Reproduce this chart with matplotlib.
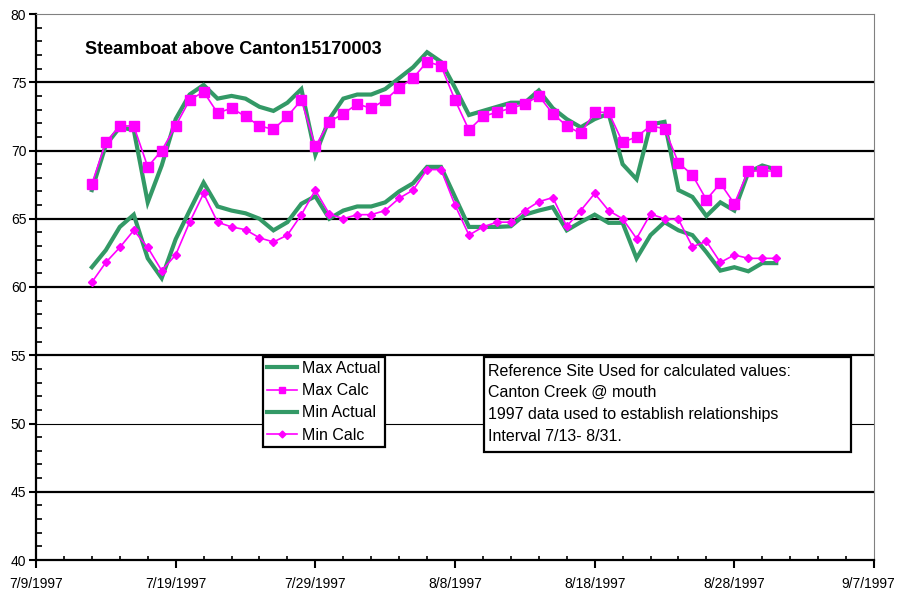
import datetime as dt
import matplotlib
matplotlib.use("Agg")
import matplotlib.pyplot as plt
import matplotlib.dates as mdates
import matplotlib.transforms as mtransforms
from matplotlib.ticker import FixedLocator, FuncFormatter, MultipleLocator
from matplotlib.lines import Line2D

plt.rcParams['font.family'] = ['Liberation Sans', 'DejaVu Sans']

title = "Steamboat above Canton15170003"
start_date = dt.date(1997, 7, 13)
n_days = 50

max_actual = [67.1, 70.4, 71.7, 71.5, 66.2, 68.9, 72.3, 74.1, 74.8, 73.8,
              74.0, 73.8, 73.2, 72.9, 73.5, 74.5, 69.7, 72.3, 73.8, 74.1,
              74.1, 74.5, 75.3, 76.1, 77.2, 76.5, 74.6, 72.6, 72.9, 73.2,
              73.5, 73.5, 74.4, 73.1, 72.3, 71.7, 72.3, 72.7, 69.0, 67.9,
              71.9, 72.1, 67.1, 66.6, 65.2, 66.2, 65.6, 68.4, 68.9, 68.6]
max_calc = [67.55, 70.6, 71.8, 71.8, 68.8, 70.0, 71.8, 73.7, 74.3, 72.75,
            73.1, 72.5, 71.8, 71.55, 72.5, 73.7, 70.3, 72.1, 72.7, 73.4,
            73.1, 73.7, 74.6, 75.3, 76.5, 76.2, 73.7, 71.5, 72.5, 72.8,
            73.1, 73.4, 74.0, 72.7, 71.8, 71.25, 72.8, 72.8, 70.6, 71.0,
            71.8, 71.6, 69.1, 68.2, 66.4, 67.6, 66.1, 68.5, 68.5, 68.5]
min_actual = [61.45, 62.7, 64.4, 65.3, 62.1, 60.65, 63.5, 65.6, 67.65, 65.9,
              65.6, 65.4, 65.0, 64.15, 64.75, 66.1, 66.65, 65.0, 65.6, 65.9,
              65.9, 66.2, 67.0, 67.6, 68.8, 68.8, 66.6, 64.4, 64.4, 64.4,
              64.45, 65.3, 65.6, 65.85, 64.15, 64.75, 65.3, 64.7, 64.7, 62.1,
              63.8, 64.75, 64.15, 63.8, 62.55, 61.2, 61.45, 61.15, 61.75, 61.75]
min_calc = [60.35, 61.8, 62.9, 64.15, 62.9, 61.2, 62.35, 64.75, 66.85, 64.75,
            64.4, 64.2, 63.6, 63.3, 63.8, 65.3, 67.1, 65.35, 65.0, 65.3,
            65.3, 65.6, 66.5, 67.1, 68.6, 68.6, 66.0, 63.8, 64.4, 64.75,
            64.75, 65.6, 66.25, 66.55, 64.45, 65.6, 66.85, 65.6, 65.0, 63.55,
            65.35, 65.0, 64.95, 62.95, 63.35, 61.8, 62.35, 62.1, 62.1, 62.1]

series_labels = ["Max Actual", "Max Calc", "Min Actual", "Min Calc"]
note_lines = ["Reference Site Used for calculated values:",
              "Canton Creek @ mouth",
              "1997 data used to establish relationships",
              "Interval 7/13- 8/31."]

x_start = dt.date(1997, 7, 9)
x_end = dt.date(1997, 9, 7)
y_ticks = [40, 45, 50, 55, 60, 65, 70, 75, 80]

dates = [start_date + dt.timedelta(days=i) for i in range(n_days)]

GREEN = "#339966"
MAGENTA = "#FF00FF"

fig = plt.figure(figsize=(8.99, 5.92), dpi=100)
ax = fig.add_axes([36 / 899, 1 - 560 / 592, 838 / 899, 546 / 592])

# horizontal grid lines
for yv in y_ticks[1:-1]:
    ax.axhline(yv, color="black", lw=0.8 if yv == 50 else 1.6, zorder=1)

ax.plot(dates, max_actual, color=GREEN, lw=3.0, zorder=3, solid_joinstyle="miter")
ax.plot(dates, max_calc, color=MAGENTA, lw=1.2, marker="s", ms=7,
        mec=MAGENTA, mfc=MAGENTA, zorder=4)
ax.plot(dates, min_actual, color=GREEN, lw=3.0, zorder=3, solid_joinstyle="miter")
ax.plot(dates, min_calc, color=MAGENTA, lw=1.2, marker="D", ms=4.3,
        mec=MAGENTA, mfc=MAGENTA, zorder=4)

ax.set_xlim(mdates.date2num(x_start), mdates.date2num(x_end))
ax.set_ylim(40, 80)

major_x = [mdates.date2num(x_start + dt.timedelta(days=10 * k)) for k in range(7)]
minor_x = [mdates.date2num(x_start + dt.timedelta(days=2 * k)) for k in range(31)]
ax.xaxis.set_major_locator(FixedLocator(major_x))
ax.xaxis.set_minor_locator(FixedLocator(minor_x))


def fmt_date(v, pos=None):
    d = mdates.num2date(v)
    return f"{d.month}/{d.day}/{d.year}"


ax.xaxis.set_major_formatter(FuncFormatter(fmt_date))
ax.yaxis.set_major_locator(FixedLocator(y_ticks))
ax.yaxis.set_minor_locator(MultipleLocator(1))

ax.tick_params(axis="x", which="major", direction="out", length=6, width=1.5,
               labelsize=10, pad=6)
ax.tick_params(axis="x", which="minor", direction="in", length=3, width=1.2)
ax.tick_params(axis="y", which="major", direction="out", length=5, width=1.5,
               labelsize=10, pad=2)
ax.tick_params(axis="y", which="minor", direction="in", length=4, width=1.2)

for side in ("left", "bottom"):
    ax.spines[side].set_linewidth(1.6)
    ax.spines[side].set_color("black")
for side in ("top", "right"):
    ax.spines[side].set_linewidth(0.8)
    ax.spines[side].set_color("#808080")

ax.text((85 - 36) / 838, (560 - 50) / 546, title, transform=ax.transAxes,
        fontsize=13, fontweight="bold", ha="left", va="center")

handles = [
    Line2D([], [], color=GREEN, lw=3.0),
    Line2D([], [], color=MAGENTA, lw=1.2, marker="s", ms=5),
    Line2D([], [], color=GREEN, lw=3.0),
    Line2D([], [], color=MAGENTA, lw=1.2, marker="D", ms=3.5),
]
leg = ax.legend(handles, series_labels, loc="upper left",
                bbox_to_anchor=((263 - 36) / 838, (560 - 357) / 546),
                fontsize=11.5, frameon=True, fancybox=False, shadow=False,
                borderpad=0.25, labelspacing=0.45, handlelength=1.9,
                handletextpad=0.3, borderaxespad=0.0)
leg.get_frame().set_edgecolor("black")
leg.get_frame().set_linewidth(1.6)
leg.get_frame().set_facecolor("white")
leg.get_frame().set_alpha(1)
leg.set_zorder(6)

# note box
bx0, bx1 = 484 / 899, 851 / 899
by0, by1 = 1 - 452 / 592, 1 - 357 / 592
fig.patches.append(plt.Rectangle((bx0, by0), bx1 - bx0, by1 - by0,
                                 transform=fig.transFigure, facecolor="white",
                                 edgecolor="black", lw=1.6, zorder=5))
for i, line in enumerate(note_lines):
    fig.text(488 / 899, 1 - (371 + 21.7 * i) / 592, line, fontsize=11.5,
             ha="left", va="center", zorder=6)

# keep the last date label inside the figure edge
fig.canvas.draw()
last = ax.get_xticklabels()[-1]
last.set_transform(last.get_transform() +
                   mtransforms.ScaledTranslation(-0.06, 0, fig.dpi_scale_trans))

fig.savefig("out.png", dpi=100)
